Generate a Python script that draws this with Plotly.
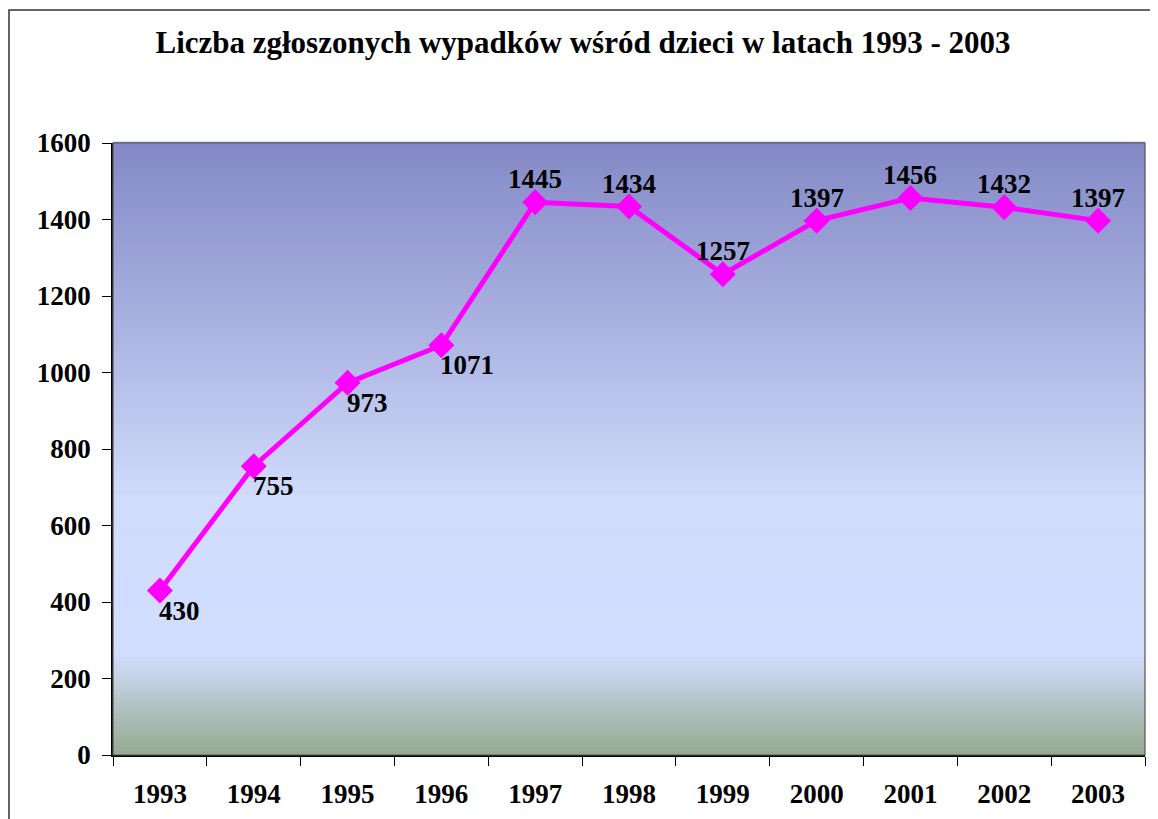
import plotly.graph_objects as go

years = ["1993", "1994", "1995", "1996", "1997", "1998", "1999", "2000", "2001", "2002", "2003"]
values = [430, 755, 973, 1071, 1445, 1434, 1257, 1397, 1456, 1432, 1397]
y_ticks = [0, 200, 400, 600, 800, 1000, 1200, 1400, 1600]

# page has an 8px body margin: figure is placed at (8, 8)
OFF = 8
W, H = 1158 - OFF, 819 - OFF
L, T = 113 - OFF, 143 - OFF
R = W - (1145 - OFF)
B = H - (755 - OFF)
pw, ph = W - L - R, H - T - B

# gradient stops (fraction from bottom, rgb)
stops = [
    (0.00, (150, 170, 145)),
    (0.06, (170, 188, 180)),
    (0.12, (195, 208, 225)),
    (0.17, (210, 222, 255)),
    (0.42, (208, 220, 252)),
    (0.70, (170, 178, 225)),
    (1.00, (132, 137, 197)),
]

def color_at(f):
    for (f0, c0), (f1, c1) in zip(stops[:-1], stops[1:]):
        if f0 <= f <= f1:
            t = (f - f0) / (f1 - f0) if f1 > f0 else 0
            return "rgb(%d,%d,%d)" % tuple(round(a + (b - a) * t) for a, b in zip(c0, c1))
    return "rgb(%d,%d,%d)" % stops[-1][1]

shapes = []
N = 150
for i in range(N):
    y0 = i / N
    y1 = (i + 1) / N
    shapes.append(dict(type="rect", xref="x domain", yref="y domain",
                       x0=0, x1=1, y0=y0, y1=y1 + 0.002, line=dict(width=0),
                       fillcolor=color_at((y0 + y1) / 2), layer="below"))
# plot border
shapes.append(dict(type="rect", xref="x domain", yref="y domain", x0=0, x1=1, y0=0, y1=1,
                   line=dict(color="#555555", width=1.2), layer="above"))
# outer frame (left edge at page x=8, top at page y=10)
shapes.append(dict(type="rect", xref="paper", yref="paper",
                   x0=(1 - L) / pw, x1=(W + 10 - L) / pw,
                   y0=(-20 - B) / ph, y1=(H - 2 - B) / ph,
                   line=dict(color="#333333", width=1.5)))

font = "Liberation Serif, Times New Roman, serif"
lab_font = dict(family=font, size=27, color="black", weight="bold")

fig = go.Figure()
fig.add_trace(go.Scatter(
    x=years, y=values, mode="lines+markers",
    line=dict(color="#FF00FF", width=5),
    marker=dict(symbol="diamond", size=20, color="#FF00FF"),
    cliponaxis=False, hoverinfo="x+y",
))

annotations = []
for i, v in enumerate(values):
    below = i < 4
    annotations.append(dict(
        x=i, y=v, xref="x", yref="y", text=str(v), showarrow=False,
        xanchor="left" if below else "center", yanchor="middle",
        xshift=-3 if below else 0, yshift=-20 if below else 23,
        font=lab_font,
    ))

fig.update_layout(
    width=W, height=H,
    margin=dict(l=L, r=R, t=T, b=B, autoexpand=False),
    paper_bgcolor="white", plot_bgcolor="rgba(0,0,0,0)",
    showlegend=False,
    title=dict(text="<b>Liczba zgłoszonych wypadków wśród dzieci w latach 1993 - 2003</b>",
               x=0.5, xref="container", y=1 - (42 - OFF) / H, yanchor="middle", xanchor="center",
               font=dict(family=font, size=31, color="black")),
    shapes=shapes,
    annotations=annotations,
    font=dict(family=font, color="black"),
)
fig.update_xaxes(
    type="category", range=[-0.5, len(years) - 0.5],
    showgrid=False, zeroline=False,
    showline=True, linecolor="black", linewidth=1.5,
    ticks="outside", tickson="boundaries", ticklen=9, tickcolor="black",
    tickfont=lab_font, tickangle=0,
    ticklabelstandoff=14,
)
fig.update_yaxes(
    range=[0, 1600], tickvals=y_ticks, showgrid=False, zeroline=False,
    showline=True, linecolor="black", linewidth=1.5,
    ticks="outside", ticklen=9, tickcolor="black",
    tickfont=lab_font,
    ticklabelstandoff=6,
)

fig.write_html("out.html")
